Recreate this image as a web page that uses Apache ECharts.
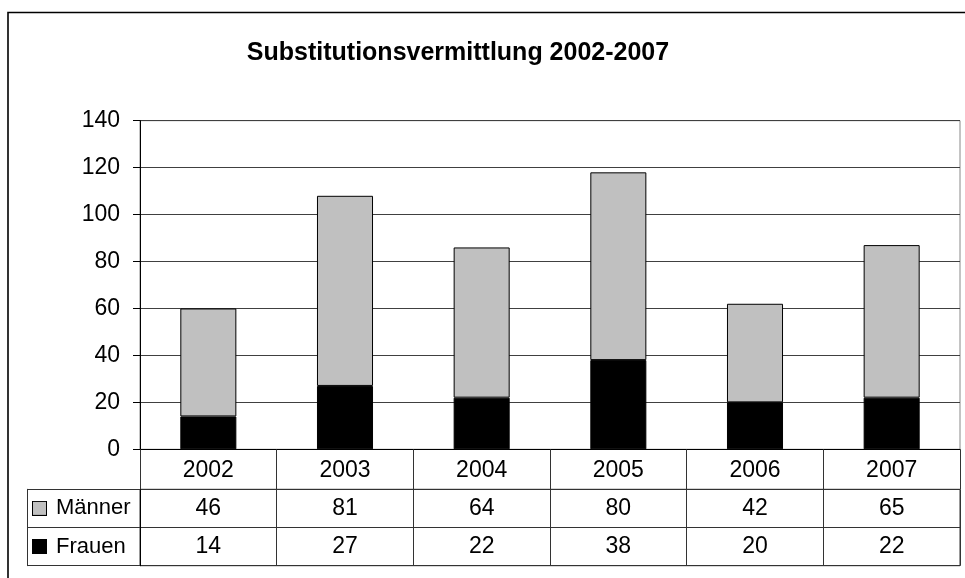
<!DOCTYPE html>
<html>
<head>
<meta charset="utf-8">
<script src="https://cdn.jsdelivr.net/npm/echarts@6/dist/echarts.min.js"></script>
<style>
  html, body { margin: 0; padding: 0; background: #fff; }
  #chart-container { width: 965px; height: 578px; }
</style>
</head>
<body>
<div id="chart-container"></div>
<script>
var years = ['2002', '2003', '2004', '2005', '2006', '2007'];
var maenner = [46, 81, 64, 80, 42, 65];
var frauen = [14, 27, 22, 38, 20, 22];
var rows = ['Frauen', 'Männer'];
var yTicks = [0, 20, 40, 60, 80, 100, 120, 140];

var font = '"Liberation Sans", Arial, sans-serif';
var grau = '#c0c0c0';

var dom = document.getElementById('chart-container');
var myChart = echarts.init(dom, null, { renderer: 'canvas' });

// table cells: [year, row, value]
var cells = [];
years.forEach(function (y, i) {
  cells.push([y, 'Männer', maenner[i]]);
  cells.push([y, 'Frauen', frauen[i]]);
});

var option = {
  animation: false,
  backgroundColor: '#fff',
  textStyle: { fontFamily: font },
  title: {
    text: 'Substitutionsvermittlung 2002-2007',
    left: 453,
    top: 36,
    textAlign: 'center',
    textStyle: { fontFamily: font, fontSize: 25, fontWeight: 'bold', color: '#000' }
  },
  graphic: [
    {
      type: 'rect',
      shape: { x: 8, y: 12.5, width: 1000, height: 600 },
      style: { fill: 'none', stroke: '#000', lineWidth: 1.6 },
      silent: true
    }
  ],
  grid: [
    { left: 140, right: 5, top: 120.7, bottom: 128.7, show: true, borderColor: '#888', borderWidth: 1 },
    { left: 140, right: 5, top: 489.3, bottom: 12.3, show: true, borderColor: '#333', borderWidth: 1 }
  ],
  xAxis: [
    {
      type: 'category',
      gridIndex: 0,
      data: years,
      axisLine: { lineStyle: { color: '#000', width: 1 } },
      axisTick: { show: true, interval: 0, length: 40, lineStyle: { color: '#333' } },
      axisLabel: { fontSize: 23, color: '#000', margin: 10, fontFamily: font }
    },
    {
      type: 'category',
      gridIndex: 1,
      data: years,
      axisLine: { show: false },
      axisTick: { show: false },
      axisLabel: { show: false },
      splitLine: { show: true, interval: 0, lineStyle: { color: '#333', width: 1 } }
    }
  ],
  yAxis: [
    {
      type: 'value',
      gridIndex: 0,
      min: yTicks[0],
      max: yTicks[yTicks.length - 1],
      interval: 20,
      axisLine: { show: true, lineStyle: { color: '#000' } },
      axisTick: { show: true, length: 7, lineStyle: { color: '#000' } },
      axisLabel: { fontSize: 23, color: '#000', margin: 20, fontFamily: font },
      splitLine: { show: true, lineStyle: { color: '#404040', width: 1 } }
    },
    {
      type: 'category',
      gridIndex: 1,
      data: rows,
      axisLine: { show: true, lineStyle: { color: '#000' } },
      axisTick: { show: true, interval: 0, length: 113, lineStyle: { color: '#333' } },
      splitLine: { show: true, interval: 0, lineStyle: { color: '#333' } },
      axisLabel: {
        margin: 107,
        align: 'left',
        interval: 0,
        formatter: function (v) {
          return (v === 'Männer' ? '{m|}' : '{f|}') + '{t|' + v + '}';
        },
        rich: {
          m: { width: 13, height: 13, backgroundColor: grau, borderColor: '#000', borderWidth: 1 },
          f: { width: 13, height: 13, backgroundColor: '#000', borderColor: '#000', borderWidth: 1 },
          t: { fontSize: 22, color: '#000', fontFamily: font, padding: [0, 0, 0, 10] }
        }
      }
    },
    {
      type: 'category',
      gridIndex: 1,
      data: rows,
      position: 'left',
      offset: 113,
      axisLine: { show: true, lineStyle: { color: '#333' } },
      axisTick: { show: false },
      axisLabel: { show: false }
    }
  ],
  series: [
    {
      name: 'Frauen',
      type: 'bar',
      stack: 'total',
      xAxisIndex: 0,
      yAxisIndex: 0,
      barWidth: '41%',
      data: frauen,
      itemStyle: { color: '#000', borderColor: '#000', borderWidth: 1 }
    },
    {
      name: 'Männer',
      type: 'bar',
      stack: 'total',
      xAxisIndex: 0,
      yAxisIndex: 0,
      barWidth: '41%',
      data: maenner,
      itemStyle: { color: grau, borderColor: '#000', borderWidth: 1 }
    },
    {
      name: 'Tabelle',
      type: 'scatter',
      xAxisIndex: 1,
      yAxisIndex: 1,
      symbolSize: 0,
      itemStyle: { color: '#fff', opacity: 1 },
      data: cells,
      label: {
        show: true,
        position: 'inside',
        fontSize: 23,
        color: '#000',
        opacity: 1,
        fontFamily: font,
        formatter: function (p) { return p.value[2]; }
      }
    }
  ]
};

myChart.setOption(option);
window.addEventListener('resize', myChart.resize);
</script>
</body>
</html>
